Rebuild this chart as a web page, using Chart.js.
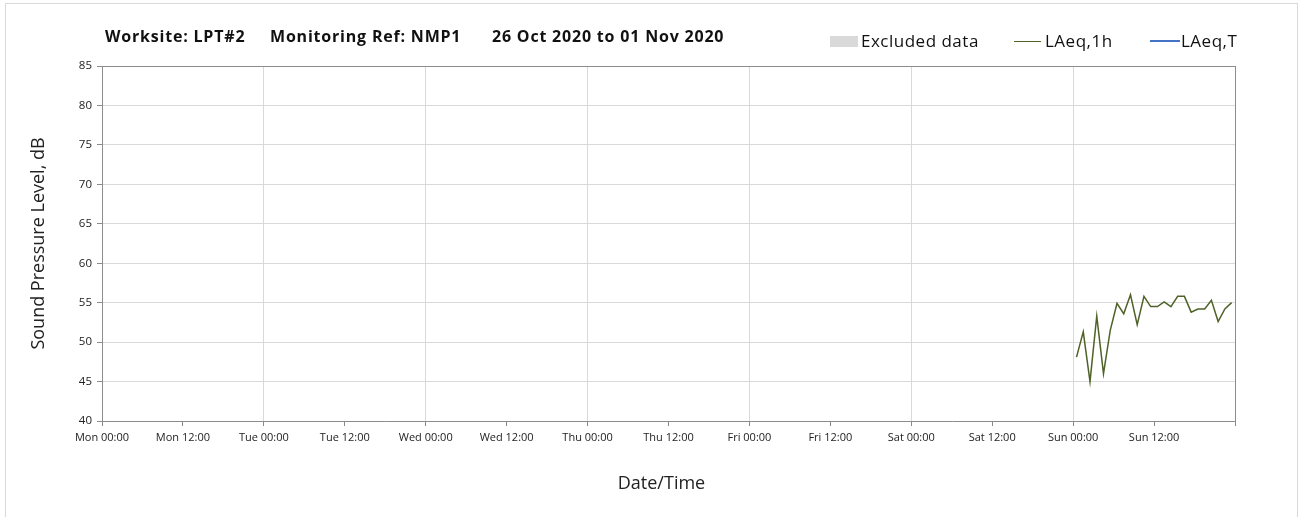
<!DOCTYPE html>
<html>
<head>
<meta charset="utf-8">
<script src="https://cdn.jsdelivr.net/npm/chart.js@4"></script>
<style>
  body { margin: 0; background: #fff; font-family: 'Open Sans', sans-serif; }
  #wrap { position: relative; width: 1301px; height: 517px; overflow: hidden; }
  #frame { position: absolute; left: 5px; top: 3px; width: 1291px; height: 530px; border: 1px solid #d9d9d9; }
  canvas { position: absolute; left: 0; top: 0; }
  .t { position: absolute; top: 25px; font-weight: bold; font-size: 16px; letter-spacing: 0.8px; color: #111; white-space: pre; }
  .lg { position: absolute; top: 29px; font-size: 17px; letter-spacing: 0.5px; color: #111; white-space: pre; }
  .sw { position: absolute; }
</style>
</head>
<body>
<div id="wrap">
  <div id="frame"></div>
  <canvas id="noiseChart" width="1301" height="517"></canvas>
  <div class="t" style="left:105px">Worksite: LPT#2</div>
  <div class="t" style="left:270px">Monitoring Ref: NMP1</div>
  <div class="t" style="left:492px">26 Oct 2020 to 01 Nov 2020</div>
  <div class="sw" style="left:830px;top:36px;width:28px;height:11px;background:#d9d9d9"></div>
  <div class="lg" style="left:861px">Excluded data</div>
  <div class="sw" style="left:1014px;top:41px;width:27px;height:1px;background:#4f6228"></div>
  <div class="lg" style="left:1045px">LAeq,1h</div>
  <div class="sw" style="left:1150px;top:40px;width:30px;height:2px;background:#4472c4"></div>
  <div class="lg" style="left:1181px">LAeq,T</div>
</div>
<script>
// Tick labels along the week (every 12 h)
const dayNames = ['Mon', 'Tue', 'Wed', 'Thu', 'Fri', 'Sat', 'Sun'];
const halfDay = ['00:00', '12:00'];

// Hourly LAeq,1h on Sunday (hours since Mon 00:00)
const laeqHours = [144.5, 145.5, 146.5, 147.5, 148.5, 149.5, 150.5, 151.5, 152.5, 153.5, 154.5, 155.5,
                   156.5, 157.5, 158.5, 159.5, 160.5, 161.5, 162.5, 163.5, 164.5, 165.5, 166.5, 167.5];
const laeq1h = [48.1, 51.3, 45.0, 53.3, 46.0, 51.5, 54.9, 53.6, 56.0, 52.2, 55.8, 54.5,
                54.5, 55.1, 54.5, 55.8, 55.8, 53.8, 54.2, 54.2, 55.3, 52.6, 54.2, 55.0];
const laeqT = [];

const ctx = document.getElementById('noiseChart').getContext('2d');

const noiseChart = new Chart(ctx, {
    type: 'line',
    data: {
        datasets: [{
            label: 'LAeq,1h',
            data: laeqHours.map((h, i) => ({ x: h, y: laeq1h[i] })),
            borderColor: '#4f6228',
            borderWidth: 1.5,
            pointRadius: 0,
            tension: 0
        }, {
            label: 'LAeq,T',
            data: laeqT,
            borderColor: '#4472c4',
            borderWidth: 2,
            pointRadius: 0
        }]
    },
    options: {
        responsive: false,
        animation: false,
        layout: { padding: { left: 24, right: 66, top: 66, bottom: 18 } },
        plugins: {
            legend: { display: false },
            tooltip: { enabled: false }
        },
        scales: {
            x: {
                type: 'linear',
                min: 0,
                max: 168,
                afterFit: (s) => { s.height = 78; },
                afterBuildTicks: (s) => {
                    s.ticks = [];
                    for (let h = 0; h <= 168; h += 12) s.ticks.push({ value: h });
                },
                ticks: {
                    autoSkip: false,
                    maxRotation: 0,
                    padding: 5,
                    color: '#222',
                    font: { family: 'Open Sans', size: 11 },
                    callback: (v) => v >= 168 ? '' : dayNames[Math.floor(v / 24)] + ' ' + halfDay[(v % 24) / 12]
                },
                grid: {
                    color: (c) => c.tick.value === 168 ? '#8c8c8c' : (c.tick.value % 24 === 0 ? '#d9d9d9' : 'rgba(0,0,0,0)'),
                    tickColor: '#8c8c8c',
                    tickLength: 5
                },
                border: { color: '#8c8c8c', width: 1 },
                title: {
                    display: true,
                    text: 'Date/Time   ',
                    color: '#222',
                    font: { family: 'Open Sans', size: 18 }
                }
            },
            y: {
                min: 40,
                max: 85,
                afterFit: (s) => { s.width = 78; },
                ticks: {
                    stepSize: 5,
                    padding: 5,
                    color: '#222',
                    font: { family: 'Open Sans', size: 11.5 }
                },
                grid: {
                    color: (c) => c.tick.value === 85 ? '#8c8c8c' : '#d9d9d9',
                    tickColor: '#8c8c8c',
                    tickLength: 5
                },
                border: { color: '#8c8c8c', width: 1 },
                title: {
                    display: true,
                    text: 'Sound Pressure Level, dB',
                    color: '#222',
                    font: { family: 'Open Sans', size: 18 }
                }
            }
        }
    }
});
</script>
</body>
</html>
